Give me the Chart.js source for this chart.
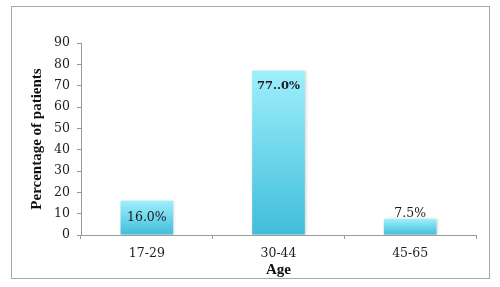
<!DOCTYPE html>
<html>
<head>
<meta charset="utf-8">
<script src="https://cdn.jsdelivr.net/npm/chart.js@4/dist/chart.umd.min.js"></script>
<style>
  html, body { margin: 0; padding: 0; background: #fff; }
  #wrap { position: relative; width: 500px; height: 287px; }
</style>
</head>
<body>
<div id="wrap"><canvas id="c" width="500" height="287"></canvas></div>
<script>
const categories = ['17-29', '30-44', '45-65'];
const percentages = [16.0, 77.0, 7.5];
const valueLabels = ['16.0%', '77..0%', '7.5%'];
const yTicks = [0, 10, 20, 30, 40, 50, 60, 70, 80, 90];

const FONT = "'DejaVu Serif', 'Liberation Serif', serif";
const TITLE_FONT = "'Liberation Serif', 'DejaVu Serif', serif";

function barGradient(ctx) {
  const chart = ctx.chart;
  const y = chart.scales && chart.scales.y;
  if (!chart.chartArea || !y || ctx.raw === undefined) return '#6fd6ec';
  const top = y.getPixelForValue(ctx.raw);
  const bottom = y.getPixelForValue(0);
  const g = chart.ctx.createLinearGradient(0, top, 0, bottom);
  g.addColorStop(0, '#9eeffc');
  g.addColorStop(1, '#40bddb');
  return g;
}

const framePlugin = {
  id: 'frame',
  beforeDraw(chart) {
    const c = chart.ctx;
    c.save();
    c.fillStyle = '#ffffff';
    c.fillRect(0, 0, chart.width, chart.height);
    c.strokeStyle = '#a8a8a8';
    c.lineWidth = 1;
    c.strokeRect(11.5, 6.5, 478, 272);
    c.restore();
  },
  beforeDatasetsDraw(chart) {
    const c = chart.ctx;
    c.save();
    c.shadowColor = 'rgba(0,0,0,0.18)';
    c.shadowBlur = 3;
    c.shadowOffsetX = 1;
    c.shadowOffsetY = 0;
  },
  afterDatasetsDraw(chart) {
    chart.ctx.restore();
  }
};

const labelPlugin = {
  id: 'valueLabels',
  afterDatasetsDraw(chart, args, opts) {
    const c = chart.ctx;
    const meta = chart.getDatasetMeta(0);
    c.save();
    c.textAlign = 'center';
    c.textBaseline = 'middle';
    c.fillStyle = '#1a1a1a';
    meta.data.forEach((bar, i) => {
      const mode = opts.modes[i];
      let y;
      if (mode === 'center') y = (bar.y + bar.base) / 2;
      else if (mode === 'insideTop') y = bar.y + 15;
      else y = bar.y - 5;
      c.font = (mode === 'insideTop' ? '600 11.5px ' : '12.5px ') + FONT;
      c.fillText(valueLabels[i], bar.x, y);
    });
    c.restore();
  }
};

new Chart(document.getElementById('c'), {
  type: 'bar',
  data: {
    labels: categories,
    datasets: [{
      data: percentages,
      backgroundColor: barGradient,
      borderWidth: 0,
      categoryPercentage: 1.0,
      barPercentage: 0.4
    }]
  },
  plugins: [framePlugin, labelPlugin],
  options: {
    responsive: false,
    animation: false,
    devicePixelRatio: 1,
    layout: { padding: { left: 26, right: 24, top: 43, bottom: 6 } },
    plugins: {
      legend: { display: false },
      tooltip: { enabled: false },
      valueLabels: { modes: ['center', 'insideTop', 'above'] }
    },
    scales: {
      x: {
        grid: { display: true, drawOnChartArea: false, drawTicks: true, tickLength: 4, color: '#9a9a9a' },
        border: { display: true, color: '#9a9a9a', width: 1 },
        ticks: { color: '#1e1e1e', font: { family: FONT, size: 12.5 }, padding: 7 },
        title: { display: true, text: 'Age', color: '#111', font: { family: TITLE_FONT, size: 15, weight: 'bold' }, padding: { top: 0, bottom: 2 } },
        afterFit(s) { s.height = 287 - 6 - 235; }
      },
      y: {
        min: 0,
        max: 90,
        afterBuildTicks(s) { s.ticks = yTicks.map(v => ({ value: v })); },
        grid: { display: true, drawOnChartArea: false, drawTicks: true, tickLength: 4, color: '#9a9a9a' },
        border: { display: true, color: '#9a9a9a', width: 1 },
        ticks: { color: '#1e1e1e', font: { family: FONT, size: 12.5 }, padding: 7 },
        title: { display: true, text: 'Percentage of patients', color: '#111', font: { family: TITLE_FONT, size: 15, weight: 'bold' }, padding: { top: 2, bottom: 4 } },
        afterFit(s) { s.width = 81 - 26; }
      }
    }
  }
});
</script>
</body>
</html>
